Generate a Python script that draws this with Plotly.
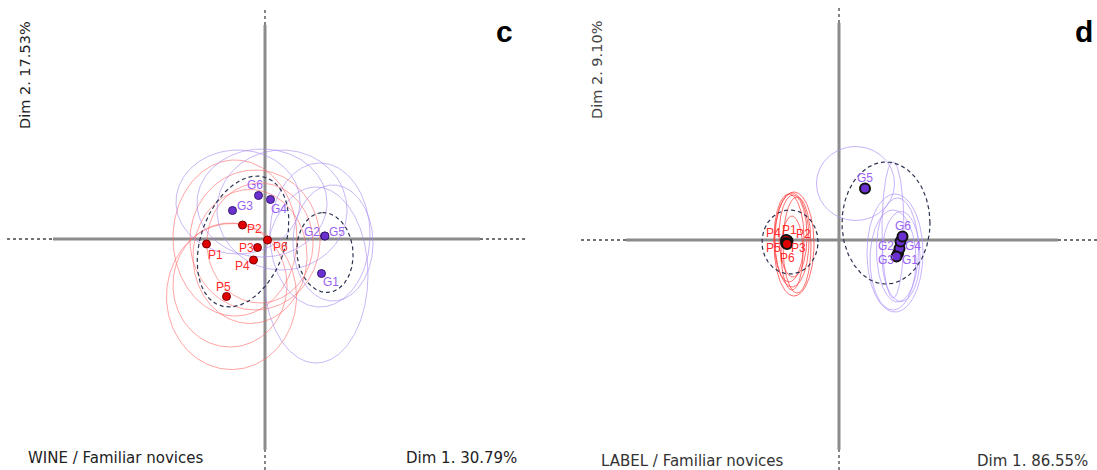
import numpy as np
import plotly.graph_objects as go

# ---------------- DATA (panel c: WINE) ----------------
c_labels = ["P1", "P2", "P3", "P4", "P5", "P6", "G1", "G2", "G3", "G4", "G5", "G6"]
c_dim1 = [-1.17, -0.45, -0.15, -0.23, -0.77, 0.05, 1.13, 1.19, -0.65, 0.11, 1.20, -0.13]
c_dim2 = [-0.10, 0.28, -0.17, -0.42, -1.15, -0.02, -0.69, 0.06, 0.57, 0.79, 0.06, 0.87]

# individual confidence ellipses: centre x, centre y, semi-axis x, semi-axis y
c_ell_red_cx = [-0.67, -0.60, -0.20, -0.70, -0.30, -0.10]
c_ell_red_cy = [-1.15, 0.02, -0.02, -0.92, -0.35, -0.08]
c_ell_red_a = [1.30, 1.24, 1.30, 1.14, 1.14, 1.06]
c_ell_red_b = [1.46, 1.56, 1.40, 1.24, 1.34, 1.20]
c_ell_pur_cx = [1.02, 1.10, 1.36, -0.54, -0.06, 0.34]
c_ell_pur_cy = [-0.72, 0.08, -0.08, 0.74, 0.72, 0.58]
c_ell_pur_a = [1.04, 1.00, 0.80, 1.24, 1.30, 1.30]
c_ell_pur_b = [1.76, 1.44, 1.16, 1.04, 1.08, 1.20]
# group ellipses (dashed): cx, cy, semi-major, semi-minor, angle (deg)
c_grp_cx = [-0.44, 1.20]
c_grp_cy = [-0.05, -0.27]
c_grp_a = [1.36, 0.80]
c_grp_b = [0.84, 0.56]
c_grp_ang = [70, 95]

# ---------------- DATA (panel d: LABEL) ----------------
d_labels = ["P1", "P2", "P3", "P4", "P5", "P6", "G1", "G2", "G3", "G4", "G5", "G6"]
d_dim1 = [-1.04, -1.03, -1.04, -1.06, -1.06, -1.04, 1.18, 1.21, 1.15, 1.23, 0.52, 1.27]
d_dim2 = [-0.01, -0.02, -0.06, 0.00, -0.06, -0.08, -0.27, -0.17, -0.33, -0.03, 1.03, 0.07]

d_ell_red_cx = [-0.90, -0.94, -0.92, -0.94, -1.00, -0.84]
d_ell_red_cy = [-0.08, 0.00, 0.08, -0.26, 0.04, -0.10]
d_ell_red_a = [0.40, 0.34, 0.28, 0.22, 0.30, 0.28]
d_ell_red_b = [1.04, 0.94, 0.82, 0.74, 0.88, 0.96]
d_ell_pur_cx = [0.33, 1.12, 1.17, 1.08, 1.08, 1.24]
d_ell_pur_cy = [1.13, -0.26, -0.20, -0.40, 0.20, -0.33]
d_ell_pur_a = [0.78, 0.56, 0.42, 0.46, 0.22, 0.38]
d_ell_pur_b = [0.74, 1.18, 1.04, 1.00, 1.36, 0.90]
d_grp_cx = [-0.98, 0.94]
d_grp_cy = [-0.04, 0.34]
d_grp_a = [0.56, 0.88]
d_grp_b = [0.64, 1.22]
d_grp_ang = [0, 0]

# label offsets in pixels (dx, dy up)
c_off = {"P1": (9, -11), "P2": (12, -4), "P3": (-11, 0), "P4": (-11, -6), "P5": (-3, 10),
         "P6": (13, -7), "G1": (9, -8), "G2": (-13, 4), "G3": (12, 5), "G4": (8, -9),
         "G5": (12, 4), "G6": (-4, 11)}
d_off = {"P1": (2, 11), "P2": (16, 7), "P3": (11, -5), "P4": (-13, 7), "P5": (-13, -5),
         "P6": (0, -14), "G1": (12, -6), "G2": (-14, 3), "G3": (-11, -3), "G4": (12, -4),
         "G5": (0, 11), "G6": (0, 11)}

W, H = 1097, 470
RED_LAB = "#ff2b2b"
PUR_LAB = "#9a62f2"

fig = go.Figure()


def ellipse(cx, cy, a, b, ang=0.0, n=200):
    t = np.linspace(0, 2 * np.pi, n)
    th = np.deg2rad(ang)
    x = cx + a * np.cos(th) * np.cos(t) - b * np.sin(th) * np.sin(t)
    y = cy + a * np.sin(th) * np.cos(t) + b * np.cos(th) * np.sin(t)
    return x, y


def add_ellipses(cxs, cys, aa, bb, color, width, xa, ya, angs=None, dash=None):
    for i in range(len(cxs)):
        ang = angs[i] if angs else 0
        x, y = ellipse(cxs[i], cys[i], aa[i], bb[i], ang)
        fig.add_trace(go.Scatter(x=x, y=y, mode="lines", xaxis=xa, yaxis=ya,
                                 line=dict(color=color, width=width, dash=dash),
                                 hoverinfo="skip", showlegend=False))


def add_cross(xr, yr, hx_solid, hx_dot, vy_solid, vy_dot):
    grey = "#8c8c8c"
    fig.add_shape(type="line", xref=xr, yref=yr, x0=hx_solid[0], x1=hx_solid[1], y0=0, y1=0,
                  line=dict(color=grey, width=3), layer="below")
    fig.add_shape(type="line", xref=xr, yref=yr, x0=0, x1=0, y0=vy_solid[0], y1=vy_solid[1],
                  line=dict(color=grey, width=3), layer="below")
    for (a, b) in [(hx_dot[0], hx_solid[0]), (hx_solid[1], hx_dot[1])]:
        fig.add_shape(type="line", xref=xr, yref=yr, x0=a, x1=b, y0=0, y1=0,
                      line=dict(color="#444444", width=1.3, dash="dot"), layer="below")
    for (a, b) in [(vy_dot[0], vy_solid[0]), (vy_solid[1], vy_dot[1])]:
        fig.add_shape(type="line", xref=xr, yref=yr, x0=0, x1=0, y0=a, y1=b,
                      line=dict(color="#444444", width=1.3, dash="dot"), layer="below")


add_cross("x", "y", (-4.24, 4.30), (-5.16, 5.20), (-4.22, 4.28), (-4.62, 4.62))
add_cross("x2", "y2", (-4.26, 4.38), (-5.16, 5.16), (-4.20, 4.34), (-4.60, 4.64))

# panel c ellipses
add_ellipses(c_ell_red_cx, c_ell_red_cy, c_ell_red_a, c_ell_red_b, "rgba(255,105,105,0.6)", 1, "x", "y")
add_ellipses(c_ell_pur_cx, c_ell_pur_cy, c_ell_pur_a, c_ell_pur_b, "rgba(165,135,240,0.6)", 1, "x", "y")
add_ellipses(c_grp_cx, c_grp_cy, c_grp_a, c_grp_b, "#2c3352", 1.2, "x", "y", c_grp_ang, "4px,3px")
# panel d ellipses
add_ellipses(d_ell_red_cx, d_ell_red_cy, d_ell_red_a, d_ell_red_b, "rgba(255,50,50,0.7)", 1, "x2", "y2")
add_ellipses(d_ell_pur_cx, d_ell_pur_cy, d_ell_pur_a, d_ell_pur_b, "rgba(175,145,250,0.7)", 1, "x2", "y2")
add_ellipses(d_grp_cx, d_grp_cy, d_grp_a, d_grp_b, "#2c3352", 1.2, "x2", "y2", d_grp_ang, "4px,3px")


def add_points(labels, xs, ys, xa, ya, offs, panel_d):
    for grp, fill, edge in [("P", "#e00000", "#7a0000"), ("G", "#6a30d0", "#35186e")]:
        idx = [i for i, l in enumerate(labels) if l.startswith(grp)]
        fig.add_trace(go.Scatter(
            x=[xs[i] for i in idx], y=[ys[i] for i in idx], mode="markers",
            xaxis=xa, yaxis=ya, showlegend=False, hoverinfo="skip",
            marker=dict(size=10 if panel_d else 8, color=fill,
                        line=dict(color="#111111" if panel_d else edge, width=2 if panel_d else 1))))
    for i, l in enumerate(labels):
        dx, dy = offs[l]
        fig.add_annotation(x=xs[i], y=ys[i], xref=xa, yref=ya, text=l, showarrow=False,
                           xshift=dx, yshift=dy,
                           font=dict(family="Liberation Sans, Arial", size=12,
                                     color=RED_LAB if l.startswith("P") else PUR_LAB))


add_points(c_labels, c_dim1, c_dim2, "x", "y", c_off, False)
add_points(d_labels, d_dim1, d_dim2, "x2", "y2", d_off, True)


def txt(px, py, s, size=15, color="#222222", angle=0, family="DejaVu Sans"):
    fig.add_annotation(x=px / W, y=1 - py / H, xref="paper", yref="paper", text=s,
                       showarrow=False, textangle=angle, xanchor="center", yanchor="middle",
                       font=dict(family=family, size=size, color=color))


txt(25, 75, "Dim 2. 17.53%", size=14.5, angle=-90)
txt(597, 70, "Dim 2. 9.10%", size=14.5, angle=-90, color="#444444")
txt(504, 31, "<b>c</b>", size=30, color="#000000", family="Liberation Sans, Arial")
txt(1084, 31, "<b>d</b>", size=30, color="#000000", family="Liberation Sans, Arial")
txt(115, 458, "WINE / Familiar novices")
txt(461, 458, "Dim 1. 30.79%")
txt(692, 461, "LABEL / Familiar novices", color="#333333")
txt(1032, 461, "Dim 1. 86.55%", color="#333333")

fig.update_layout(
    width=W, height=H, margin=dict(l=0, r=0, t=0, b=0),
    paper_bgcolor="white", plot_bgcolor="white", showlegend=False,
    xaxis=dict(domain=[0, 0.5], range=[-5.30, 5.67], visible=False),
    yaxis=dict(domain=[0, 1], range=[-4.62, 4.78], visible=False),
    xaxis2=dict(domain=[0.5, 1], range=[-5.81, 5.16], visible=False, anchor="y2"),
    yaxis2=dict(domain=[0, 1], range=[-4.60, 4.80], visible=False, anchor="x2"),
)

fig.write_html("out.html", config={"displayModeBar": False},
               post_script="document.body.style.margin='0';")
